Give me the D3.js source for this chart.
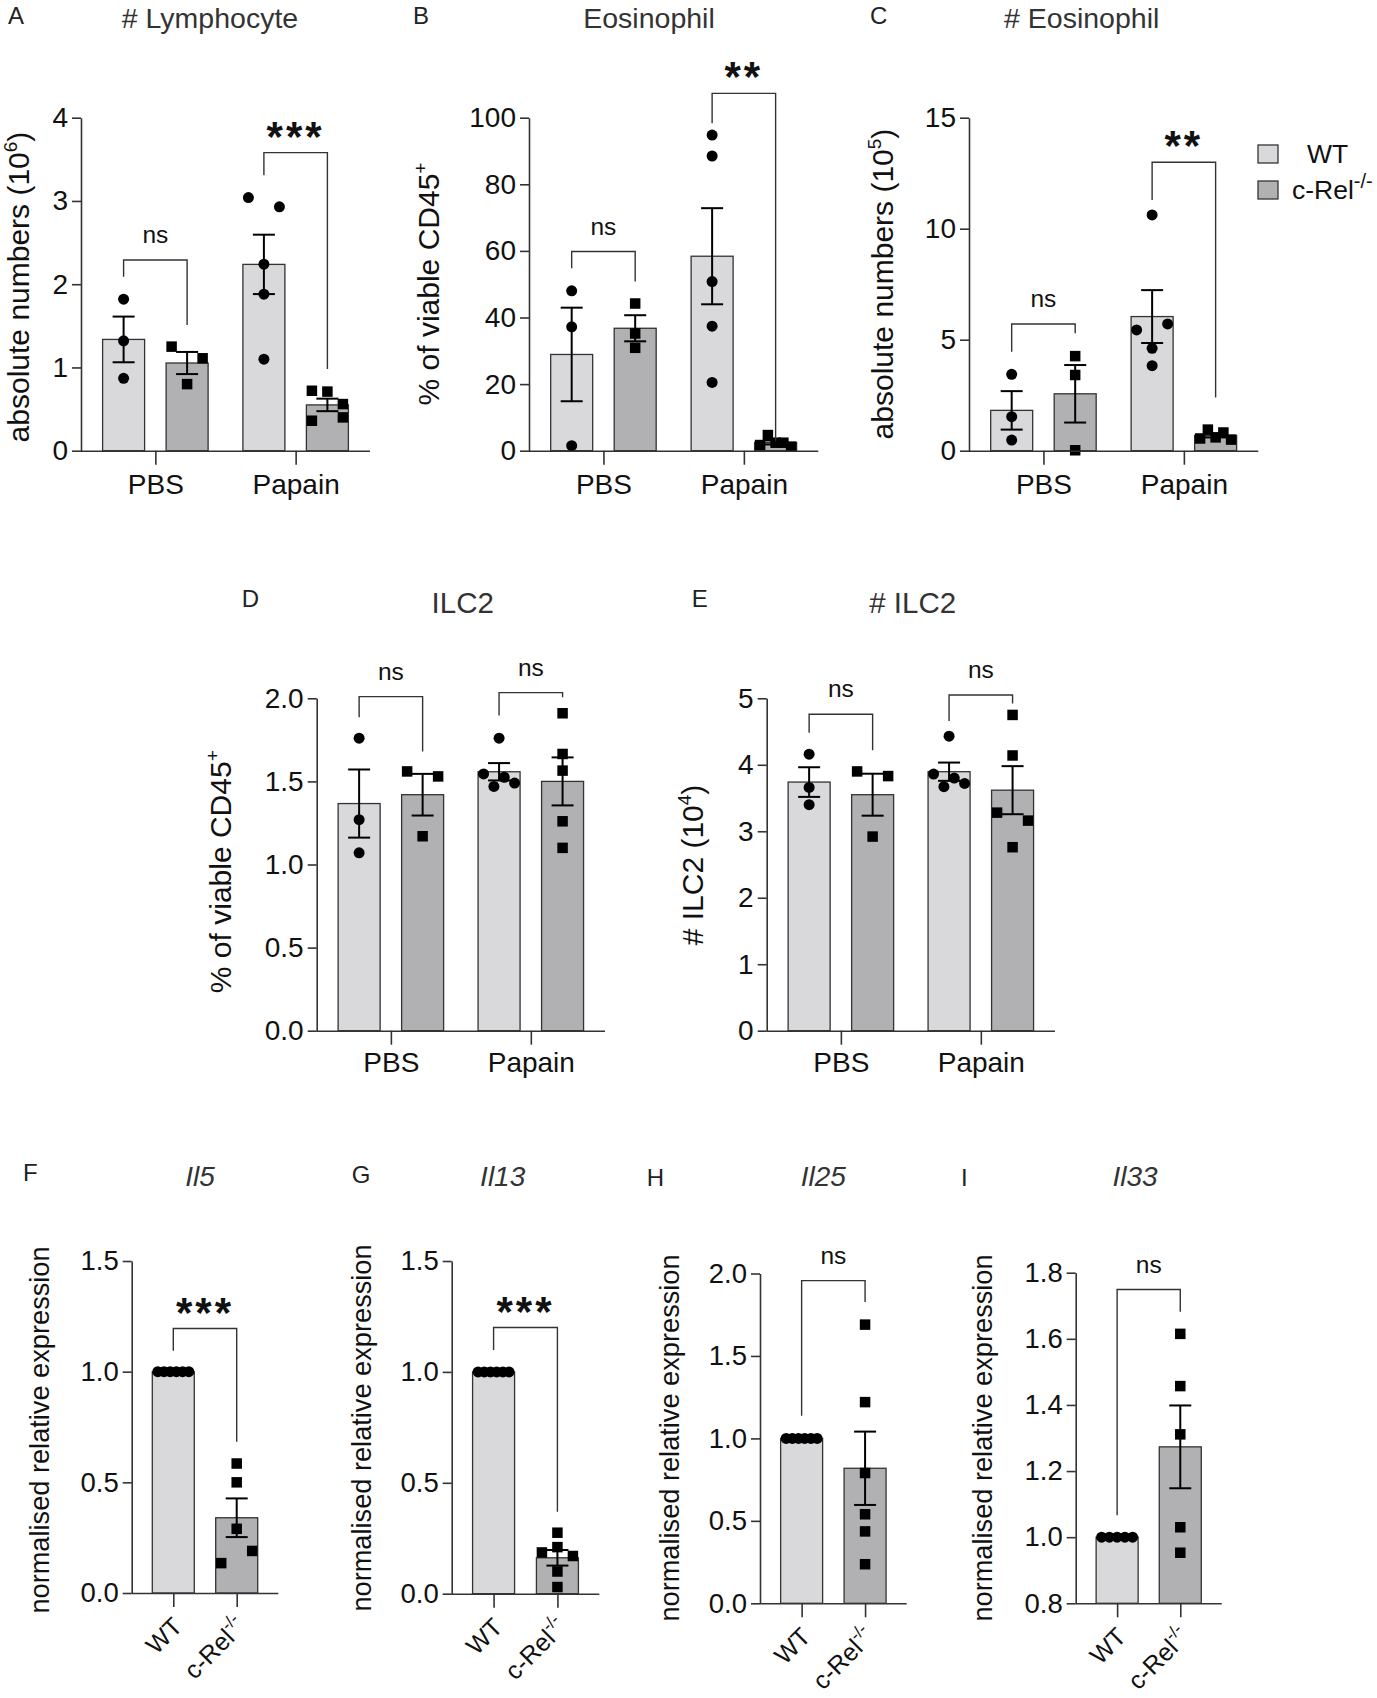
<!DOCTYPE html>
<html>
<head>
<meta charset="utf-8">
<script src="https://cdn.jsdelivr.net/npm/d3@7"></script>
<style>
  body { margin: 0; background: #fff; }
  svg text { font-family: "Liberation Sans", Arial, Helvetica, sans-serif; }
</style>
</head>
<body>
<svg id="fig" width="1377" height="1698"></svg>
<script>
// categories
const groups = ['PBS', 'Papain'];
const genotypes = ['WT', 'c-Rel'];

// A - # Lymphocyte (10^6)
const lymphWT = [[1.82, 1.32, 0.87], [3.04, 2.93, 2.24, 1.88, 1.10]];
const lymphKO = [[1.25, 1.11, 0.80], [0.72, 0.71, 0.56, 0.36, 0.40]];
const lymphSig = [[2.29, 2.09, 1.51, 'ns'], [3.58, 3.31, 0.98, '***']];

// B - Eosinophil (% of viable CD45+)
const eosPctWT = [[48.0, 37.2, 1.5], [94.8, 88.5, 50.8, 37.4, 20.5]];
const eosPctKO = [[44.2, 35.2, 30.9], [1.7, 4.7, 2.4, 2.4, 1.2]];
const eosPctSig = [[59.8, 54.8, 50.8, 'ns'], [107.3, 98.3, 3, '**']];

// C - # Eosinophil (10^5)
const eosNumWT = [[3.44, 1.53, 0.48], [10.62, 5.44, 5.71, 4.61, 3.83]];
const eosNumKO = [[4.26, 3.41, 0.02], [0.55, 0.95, 0.6, 0.82, 0.5]];
const eosNumSig = [[5.71, 4.46, 5.29, 'ns'], [12.99, 11.29, 2.40, '**']];

// D - ILC2 (% of viable CD45+)
const ilcPctWT = [[1.76, 1.27, 1.07], [1.76, 1.545, 1.47, 1.525, 1.49]];
const ilcPctKO = [[1.56, 1.53, 1.17], [1.91, 1.665, 1.565, 1.26, 1.10]];
const ilcPctSig = [[2.01, 1.886, 1.68, 'ns'], [2.034, 1.896, 2.006, 'ns']];

// E - # ILC2 (10^4)
const ilcNumWT = [[4.16, 3.66, 3.40], [4.43, 3.86, 3.67, 3.80, 3.72]];
const ilcNumKO = [[3.90, 3.83, 2.92], [4.75, 4.14, 3.28, 3.16, 2.76]];
const ilcNumSig = [[4.76, 4.48, 4.22, 'ns'], [5.05, 4.66, 4.92, 'ns']];

// F-I - normalised relative expression
const il5WT = [1, 1, 1, 1, 1, 1];
const il5KO = [0.585, 0.50, 0.29, 0.135, 0.19];
const il5Sig = [[1.195, 1.095, 0.683, '***']];
const il13WT = [1, 1, 1, 1, 1, 1];
const il13KO = [0.275, 0.186, 0.21, 0.17, 0.10, 0.03];
const il13Sig = [[1.2, 1.099, 0.369, '***']];
const il25WT = [1, 1, 1, 1, 1, 1];
const il25KO = [1.69, 1.22, 0.79, 0.54, 0.436, 0.237];
const il25Sig = [[1.957, 1.137, 1.827, 'ns']];
const il33WT = [1, 1, 1, 1, 1];
const il33KO = [1.615, 1.457, 1.311, 1.030, 0.953];
const il33Sig = [[1.749, 1.066, 1.682, 'ns']];

// tick values
const ticksA = [0, 1, 2, 3, 4];
const ticksB = [0, 20, 40, 60, 80, 100];
const ticksC = [0, 5, 10, 15];
const ticksD = [0, 0.5, 1.0, 1.5, 2.0];
const ticksE = [0, 1, 2, 3, 4, 5];
const ticksFG = [0, 0.5, 1.0, 1.5];
const ticksH = [0, 0.5, 1.0, 1.5, 2.0];
const ticksI = [0.8, 1.0, 1.2, 1.4, 1.6, 1.8];

const colors = { wt: '#d9d9dc', ko: '#b1b1b4', line: '#333', ink: '#111' };
const barW = 42, capW = 22, dotD = 11, collide = 13;

const svg = d3.select('#fig');

/*
Arrange points in rows: values closer than a marker apart share a row
and are spread across the bar, as in the original scatter.
*/
function swarm(vals, y) {
  const idx = d3.range(vals.length).sort((a, b) => vals[b] - vals[a]);
  const rows = [];
  idx.forEach(i => {
    const last = rows[rows.length - 1];
    if (last && Math.abs(y(vals[i]) - y(vals[last[last.length - 1]])) < collide) last.push(i);
    else rows.push([i]);
  });
  const off = vals.map(() => 0);
  rows.forEach(r => {
    if (r.length < 2) return;
    r.sort((a, b) => a - b);
    const s = (barW - dotD) / (r.length - 1);
    r.forEach((i, k) => off[i] = (k - (r.length - 1) / 2) * s);
  });
  return off;
}

function addText(g, parts, attrs) {
  const t = g.append('text');
  Object.entries(attrs).forEach(([k, v]) => t.attr(k, v));
  parts.forEach(p => {
    const s = t.append('tspan').text(p.t);
    if (p.sup) s.attr('font-size', p.sup).attr('dy', -p.rise);
    if (p.down) s.attr('dy', p.down);
  });
  return t;
}

function panel(p) {
  const g = svg.append('g');
  const y = d3.scaleLinear(p.domain, [p.y0, p.yTop]);
  const x = d3.scalePoint(p.cats, [p.x0, p.x1]).padding(p.pad);

  let bars;
  if (p.kind === 'grouped') {
    bars = p.cats.flatMap((c, i) => [
      { cx: x(c) - 31.75, geno: 0, vals: p.wt[i] },
      { cx: x(c) + 31.75, geno: 1, vals: p.ko[i] }
    ]);
  } else {
    bars = [{ cx: x(p.cats[0]), geno: 0, vals: p.wt }, { cx: x(p.cats[1]), geno: 1, vals: p.ko }];
  }
  bars.forEach(b => {
    b.mean = d3.mean(b.vals);
    b.sem = b.vals.length > 1 ? d3.deviation(b.vals) / Math.sqrt(b.vals.length) : 0;
    b.off = swarm(b.vals, y);
  });

  g.selectAll('rect.bar').data(bars).join('rect')
    .attr('class', 'bar')
    .attr('x', d => d.cx - barW / 2)
    .attr('width', barW)
    .attr('y', d => y(d.mean))
    .attr('height', d => y(p.domain[0]) - y(d.mean))
    .attr('fill', d => d.geno ? colors.ko : colors.wt)
    .attr('stroke', colors.line)
    .attr('stroke-width', 1.3);

  bars.forEach(b => {
    const pts = b.vals.map((v, i) => ({ x: b.cx + b.off[i], y: y(v) }));
    if (b.geno === 0) {
      g.selectAll(null).data(pts).join('circle')
        .attr('cx', d => d.x).attr('cy', d => d.y).attr('r', dotD / 2).attr('fill', '#000');
    } else {
      g.selectAll(null).data(pts).join('rect')
        .attr('x', d => d.x - 5.25).attr('y', d => d.y - 5.25)
        .attr('width', 10.5).attr('height', 10.5).attr('fill', '#000');
    }
    if (b.sem > 0) {
      const eb = g.append('g').attr('stroke', '#000').attr('stroke-width', 2);
      eb.append('line').attr('x1', b.cx).attr('x2', b.cx)
        .attr('y1', y(b.mean - b.sem)).attr('y2', y(b.mean + b.sem));
      [b.mean - b.sem, b.mean + b.sem].forEach(v => eb.append('line')
        .attr('x1', b.cx - capW / 2).attr('x2', b.cx + capW / 2)
        .attr('y1', y(v)).attr('y2', y(v)));
    }
  });

  // significance brackets
  p.sig.forEach((s, i) => {
    const [yTop, lEnd, rEnd, label] = s;
    const l = bars[2 * i].cx, r = bars[2 * i + 1].cx;
    g.append('path')
      .attr('d', `M${l},${y(lEnd)}V${y(yTop)}H${r}V${y(rEnd)}`)
      .attr('fill', 'none').attr('stroke', colors.line).attr('stroke-width', 1.4);
    const stars = label !== 'ns';
    g.append('text')
      .attr('x', (l + r) / 2)
      .attr('y', stars ? y(yTop) - 24 + 22 : y(yTop) - 17)
      .attr('text-anchor', 'middle')
      .attr('font-size', stars ? 42 : 24.5)
      .attr('font-weight', stars ? 'bold' : 'normal')
      .attr('letter-spacing', stars ? 3 : 0)
      .attr('fill', colors.ink)
      .text(label);
  });

  // axes
  const ya = g.append('g').attr('transform', `translate(${p.x0},0)`)
    .call(d3.axisLeft(y).tickValues(p.ticks).tickFormat(d3.format(p.fmt))
      .tickSize(9).tickPadding(4).tickSizeOuter(0));
  ya.selectAll('text').attr('font-size', p.tickFs).attr('fill', colors.ink).attr('font-family', null);
  ya.selectAll('path,line').attr('stroke', colors.line).attr('stroke-width', 1.6);

  const xa = g.append('g').attr('transform', `translate(0,${p.y0})`)
    .call(d3.axisBottom(x).tickSize(14).tickSizeOuter(0).tickPadding(p.xPad));
  xa.select('.domain').attr('d', `M${p.x0},0.5H${p.x1}`);
  xa.selectAll('path,line').attr('stroke', colors.line).attr('stroke-width', 1.6);
  xa.selectAll('text').attr('fill', colors.ink).attr('font-family', null);
  if (p.kind === 'grouped') {
    xa.selectAll('text').attr('font-size', 28);
  } else {
    xa.selectAll('text').each(function (d) {
      const t = d3.select(this).text(null)
        .attr('y', 0).attr('dy', 0).attr('font-size', 25)
        .attr('text-anchor', 'end')
        .attr('transform', 'translate(10,35) rotate(-45)');
      t.append('tspan').text(d);
      if (d === 'c-Rel') t.append('tspan').text('-/-').attr('font-size', 17).attr('dy', -11);
    });
  }

  // title, letter, y label
  g.append('text').attr('x', p.titleX).attr('y', p.titleY).attr('text-anchor', 'middle')
    .attr('font-size', p.titleFs).attr('fill', '#333')
    .attr('font-style', p.italic ? 'italic' : 'normal').text(p.title);
  g.append('text').attr('x', p.letterX).attr('y', p.letterY)
    .attr('font-family', 'Lato, "Open Sans", sans-serif').attr('font-size', 24).attr('fill', '#222')
    .text(p.letter);
  addText(g, p.ylabel, {
    transform: `translate(${p.ylabX},${p.ylabY}) rotate(-90)`,
    'text-anchor': 'middle', 'font-size': p.ylabFs, fill: colors.ink
  });
}

const absLabel = e => [{ t: 'absolute numbers (10' }, { t: e, sup: 19, rise: 12 }, { t: ')', down: 12 }];
const pctLabel = [{ t: '% of viable CD45' }, { t: '+', sup: 19, rise: 12 }];
const nreLabel = [{ t: 'normalised relative expression' }];

const topRow = { y0: 450.7, yTop: 117.7, kind: 'grouped', cats: groups, pad: 0.53, tickFs: 28, xPad: 9, ylabFs: 30, titleY: 28, titleFs: 28.5, letterY: 24, fmt: 'd' };
const midRow = Object.assign({}, topRow, { y0: 1030.7, yTop: 698.3, xPad: 7, titleY: 613, letterY: 606.7, titleFs: 29.5 });
const botRow = { kind: 'pair', cats: genotypes, pad: 0.656, tickFs: 27.5, xPad: 0, ylabFs: 27.2, titleY: 1186, titleFs: 28, italic: true, fmt: '.1f' };

const panels = [
  Object.assign({}, topRow, { x0: 81, x1: 370, domain: [0, 4], ticks: ticksA, wt: lymphWT, ko: lymphKO, sig: lymphSig,
    title: '# Lymphocyte', titleX: 210, letter: 'A', letterX: 8, ylabel: absLabel('6'), ylabX: 29, ylabY: 287 }),
  Object.assign({}, topRow, { x0: 529, x1: 818.3, domain: [0, 100], ticks: ticksB, wt: eosPctWT, ko: eosPctKO, sig: eosPctSig,
    title: 'Eosinophil', titleX: 649, letter: 'B', letterX: 413, ylabel: pctLabel, ylabX: 439, ylabY: 284 }),
  Object.assign({}, topRow, { x0: 969, x1: 1258.3, domain: [0, 15], ticks: ticksC, wt: eosNumWT, ko: eosNumKO, sig: eosNumSig,
    title: '# Eosinophil', titleX: 1081.7, letter: 'C', letterX: 870, ylabel: absLabel('5'), ylabX: 893, ylabY: 284 }),
  Object.assign({}, midRow, { x0: 316.7, x1: 605, domain: [0, 2], ticks: ticksD, fmt: '.1f', wt: ilcPctWT, ko: ilcPctKO, sig: ilcPctSig,
    title: 'ILC2', titleX: 462.7, letter: 'D', letterX: 241.7, ylabel: pctLabel, ylabX: 231, ylabY: 871.7 }),
  Object.assign({}, midRow, { x0: 766.7, x1: 1055, domain: [0, 5], ticks: ticksE, wt: ilcNumWT, ko: ilcNumKO, sig: ilcNumSig,
    title: '# ILC2', titleX: 912.7, letter: 'E', letterX: 691.7,
    ylabel: [{ t: '# ILC2 (10' }, { t: '4', sup: 19, rise: 12 }, { t: ')', down: 12 }], ylabX: 703, ylabY: 865 }),
  Object.assign({}, botRow, { x0: 131.7, x1: 278.3, y0: 1593, yTop: 1261, domain: [0, 1.5], ticks: ticksFG, wt: il5WT, ko: il5KO, sig: il5Sig,
    title: 'Il5', titleX: 200, letter: 'F', letterX: 23, letterY: 1181, ylabel: nreLabel, ylabX: 49.3, ylabY: 1430 }),
  Object.assign({}, botRow, { x0: 451.7, x1: 599.3, y0: 1593.7, yTop: 1261, domain: [0, 1.5], ticks: ticksFG, wt: il13WT, ko: il13KO, sig: il13Sig,
    title: 'Il13', titleX: 502.7, letter: 'G', letterX: 351.7, letterY: 1182.7, ylabel: nreLabel, ylabX: 371, ylabY: 1428 }),
  Object.assign({}, botRow, { x0: 760, x1: 906.7, y0: 1603.3, yTop: 1273.5, domain: [0, 2], ticks: ticksH, wt: il25WT, ko: il25KO, sig: il25Sig,
    title: 'Il25', titleX: 823.3, letter: 'H', letterX: 646.7, letterY: 1185.5, ylabel: nreLabel, ylabX: 679.3, ylabY: 1438 }),
  Object.assign({}, botRow, { x0: 1075.7, x1: 1221.7, y0: 1603.3, yTop: 1272.7, domain: [0.8, 1.8], ticks: ticksI, wt: il33WT, ko: il33KO, sig: il33Sig,
    title: 'Il33', titleX: 1135, letter: 'I', letterX: 961, letterY: 1185.5, ylabel: nreLabel, ylabX: 991.7, ylabY: 1438 })
];

panels.forEach(panel);

// legend
const legend = svg.append('g');
legend.selectAll('rect').data(['wt', 'ko']).join('rect')
  .attr('x', 1258).attr('y', (d, i) => 145 + i * 36)
  .attr('width', 20).attr('height', 18)
  .attr('fill', d => colors[d]).attr('stroke', colors.line).attr('stroke-width', 1.3);
legend.append('text').attr('x', 1307).attr('y', 163).attr('font-size', 26.5).attr('fill', colors.ink).text('WT');
addText(legend, [{ t: 'c-Rel' }, { t: '-/-', sup: 20, rise: 11 }], { x: 1292, y: 199, 'font-size': 26.5, fill: colors.ink });
</script>
</body>
</html>
